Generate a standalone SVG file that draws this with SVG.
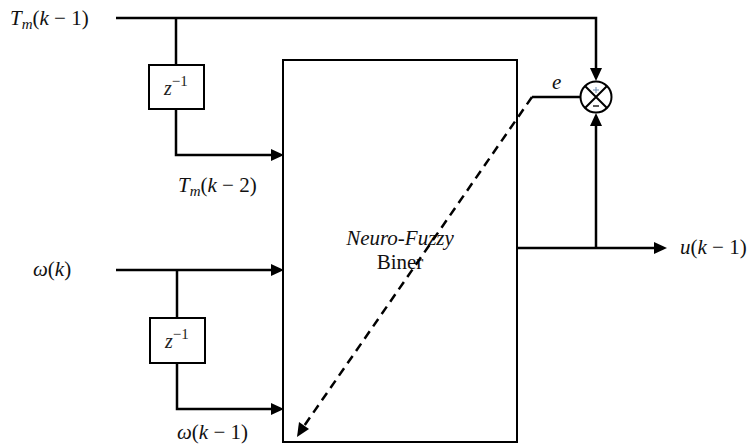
<svg xmlns="http://www.w3.org/2000/svg" width="756" height="446" viewBox="0 0 756 446">
<style>
.w{stroke:#000;stroke-width:2.5;fill:none}
.b{stroke:#000;stroke-width:2;fill:#fff}
.m{font-family:"Liberation Serif","Times New Roman",serif;font-size:21px;fill:#111}
.i{font-style:italic}
.z{font-family:"Liberation Serif","Times New Roman",serif;font-size:20px;fill:#222}
</style>
<g id="nf-block">
<rect x="283" y="60" width="234" height="382" class="b"/>
<text x="400" y="245" text-anchor="middle" class="m i" font-size="19" fill="#1a2040">Neuro-Fuzzy</text>
<text x="400" y="269" text-anchor="middle" class="m" font-size="20">Biner</text>
</g>
<g id="delay1">
<rect x="149" y="65" width="55" height="44" class="b"/>
<text x="164" y="95" class="z"><tspan class="i">z</tspan><tspan font-size="15" dy="-9">−1</tspan></text>
</g>
<g id="delay2">
<rect x="150" y="318" width="55" height="45" class="b"/>
<text x="165" y="348" class="z"><tspan class="i">z</tspan><tspan font-size="15" dy="-9">−1</tspan></text>
</g>
<g id="sum">
<circle cx="596" cy="97" r="15.5" class="b"/>
<path d="M585,86 L607,108 M607,86 L585,108" stroke="#000" stroke-width="2"/>
<path d="M593,90 H599 M596,87 V93" stroke="#6a8ab0" stroke-width="1"/>
<path d="M593,106 H599" stroke="#222" stroke-width="1.5"/>
</g>
<g id="connectors">
<path class="w" d="M116,18 H596 V69" />
<path d="M590,68 L602,68 L596,81 z" fill="#000"/>
<path class="w" d="M176,18 V65"/>
<path class="w" d="M176,109 V155 H272"/>
<path d="M271,149 L284,155 L271,161 z" fill="#000"/>
<path class="w" d="M116,270 H272"/>
<path d="M271,264 L284,270 L271,276 z" fill="#000"/>
<path class="w" d="M177,270 V318"/>
<path class="w" d="M177,363 V409 H272"/>
<path d="M271,403 L284,409 L271,415 z" fill="#000"/>
<path class="w" d="M517,248 H655"/>
<path d="M654,242 L667,248 L654,254 z" fill="#000"/>
<path class="w" d="M596,248 V125"/>
<path d="M590,126 L602,126 L596,113 z" fill="#000"/>
<path class="w" d="M580,97 H532"/>
<path d="M532,97 L302,429" stroke="#000" stroke-width="2.5" stroke-dasharray="9,6" fill="none"/>
<path d="M297,437 L299,422 L309,429 z" fill="#000"/>
</g>
<g id="labels">
<text x="10" y="25" class="m"><tspan class="i">T</tspan><tspan class="i" font-size="15" dy="4">m</tspan><tspan dy="-4">(</tspan><tspan class="i">k</tspan> − 1)</text>
<text x="178" y="192" class="m"><tspan class="i">T</tspan><tspan class="i" font-size="15" dy="4">m</tspan><tspan dy="-4">(</tspan><tspan class="i">k</tspan> − 2)</text>
<text x="33" y="276" class="m"><tspan class="i">ω</tspan>(<tspan class="i">k</tspan>)</text>
<text x="177" y="439" class="m" font-size="20"><tspan class="i">ω</tspan>(<tspan class="i">k</tspan> − 1)</text>
<text x="680" y="254" class="m"><tspan class="i">u</tspan>(<tspan class="i">k</tspan> − 1)</text>
<text x="552" y="89" class="m i" font-size="18" fill="#2a3050">e</text>
</g>
</svg>
